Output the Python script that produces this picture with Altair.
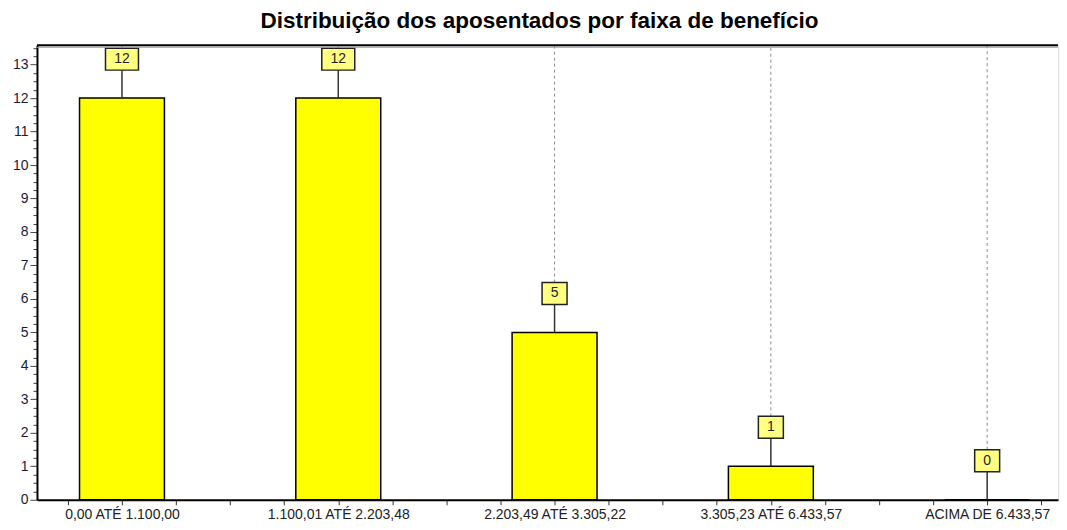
import json
import altair as alt
import pandas as pd

# ---- data ----
categories = [
    "0,00 ATÉ 1.100,00",
    "1.100,01 ATÉ 2.203,48",
    "2.203,49 ATÉ 3.305,22",
    "3.305,23 ATÉ 6.433,57",
    "ACIMA DE 6.433,57",
]
values = [12, 12, 5, 1, 0]
title_text = "Distribuição dos aposentados por faixa de benefício"

# ---- layout / style constants ----
W, H = 1022, 455
XMIN = 0.607
PX_X = 216.5                       # pixels per category step
XMAX = XMIN + W / PX_X
YMAX = 13.58
PX_Y = H / YMAX                    # pixels per unit of value
FONT = "Liberation Sans"

df = pd.DataFrame({"pos": list(range(1, len(categories) + 1)),
                   "cat": categories, "value": values})
df["label"] = df["value"].astype(str)
df["ymax"] = YMAX
df["xmin"] = XMIN
df["xmax"] = XMAX

base = alt.Chart(df).transform_calculate(
    box_c="datum.value + 39/" + str(PX_Y),
    box_b="datum.value + 28/" + str(PX_Y),
    box_t="datum.value + 50/" + str(PX_Y),
    box_l="datum.pos - (length(datum.label)*8 + 17)/2/" + str(PX_X),
    box_r="datum.pos + (length(datum.label)*8 + 17)/2/" + str(PX_X),
)

xscale = alt.Scale(domain=[XMIN, XMAX], nice=False, zero=False, padding=0)
yscale = alt.Scale(domain=[0, YMAX], nice=False, zero=False, padding=0)

label_arr = json.dumps(categories, ensure_ascii=False)
x_ticks = [round(0.75 + 0.25 * i, 2) for i in range(int((XMAX - 0.75) / 0.25) + 1)]
y_ticks = [round(0.25 * i, 2) for i in range(int(YMAX / 0.25) + 1)]

x_axis = alt.Axis(
    values=x_ticks, title=None, grid=False,
    labelExpr="datum.value % 1 === 0 ? " + label_arr + "[datum.value - 1] : ''",
    domainColor="black", domainWidth=2, tickColor="#333", tickSize=5,
    labelFont=FONT, labelFontSize=14, labelColor="#222", labelPadding=3,
    labelOverlap=False, labelFlush=False,
)
y_axis = alt.Axis(
    values=y_ticks, title=None, grid=False,
    labelExpr="datum.value % 1 === 0 ? format(datum.value, 'd') : ''",
    domainColor="black", domainWidth=2, tickColor="#444",
    tickSize={"condition": {"test": "datum.value % 1 === 0", "value": 7}, "value": 4},
    labelFont=FONT, labelFontSize=14, labelColor="#1a1a3a", labelPadding=2,
    labelOverlap=False, labelFlush=False,
)


def X(field):
    return alt.X(field, type="quantitative", scale=xscale, axis=x_axis)


def Y(field):
    return alt.Y(field, type="quantitative", scale=yscale, axis=y_axis)


bars = base.mark_bar(color="#FFFF00", stroke="black", strokeWidth=1.5, width=85).encode(
    x=X("pos"), y=Y("value"),
)

grid_dash = base.mark_rule(color="#8a8a8a", strokeDash=[3, 3], strokeWidth=1).encode(
    x=X("pos"), y=Y("box_t"), y2="ymax:Q",
)

connector = base.mark_rule(color="#333", strokeWidth=1.5).encode(
    x=X("pos"), y=Y("value"), y2="box_b:Q",
)

boxes = base.mark_rect(fill="#FFFF80", stroke="#222", strokeWidth=1.5).encode(
    x=X("box_l"), x2="box_r:Q", y=Y("box_b"), y2="box_t:Q",
)

texts = base.mark_text(font=FONT, fontSize=14, color="#222", baseline="middle",
                       align="center").encode(
    x=X("pos"), y=Y("box_c"), text="label:N",
)

frame_top = alt.Chart(df.head(1))
top_shadow = frame_top.mark_rule(color="#9a9a9a", strokeWidth=1, yOffset=2).encode(
    x=X("xmin"), x2="xmax:Q", y=Y("ymax"),
)
top_border = frame_top.mark_rule(color="black", strokeWidth=2).encode(
    x=X("xmin"), x2="xmax:Q", y=Y("ymax"),
)

chart = alt.layer(bars, grid_dash, connector, boxes, texts, top_shadow, top_border).properties(
    width=W, height=H,
    padding={"left": 4, "top": 2, "right": 0, "bottom": 4},
    title=alt.TitleParams(title_text, font=FONT, fontSize=22.5, fontWeight="bold",
                          color="black", anchor="middle", offset=8, dx=-8),
).configure_view(stroke=None).configure(background="white")

chart.save("out.html", embed_options={"renderer": "svg", "actions": False})
